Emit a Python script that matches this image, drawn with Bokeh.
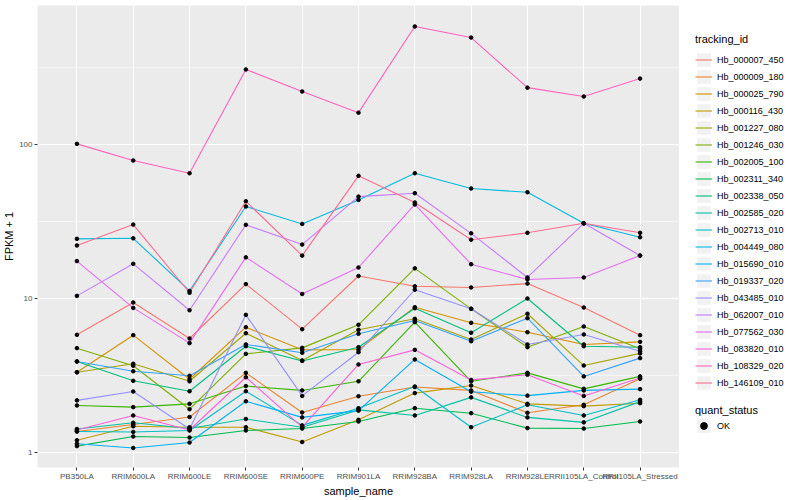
from bokeh.plotting import figure
from bokeh.layouts import row
from bokeh.models import (FactorRange, Range1d, FixedTicker, Legend, LegendItem,
                          CustomJSTickFormatter)
from bokeh.embed import file_html
from bokeh.resources import INLINE

samples = ["PB350LA", "RRIM600LA", "RRIM600LE", "RRIM600SE", "RRIM600PE", "RRIM901LA",
           "RRIM928BA", "RRIM928LA", "RRIM928LE", "RRII105LA_Control", "RRII105LA_Stressed"]

tracking_ids = ["Hb_000007_450", "Hb_000009_180", "Hb_000025_790", "Hb_000116_430",
                "Hb_001227_080", "Hb_001246_030", "Hb_002005_100", "Hb_002311_340",
                "Hb_002338_050", "Hb_002585_020", "Hb_002713_010", "Hb_004449_080",
                "Hb_015690_010", "Hb_019337_020", "Hb_043485_010", "Hb_062007_010",
                "Hb_077562_030", "Hb_083820_010", "Hb_108329_020", "Hb_146109_010"]

colors = ["#F8766D", "#EA8331", "#D89000", "#C09B00", "#A3A500", "#7CAE00", "#39B600",
          "#00BB4E", "#00BF7D", "#00C1A3", "#00BFC4", "#00BAE0", "#00B0F6", "#35A2FF",
          "#9590FF", "#C77CFF", "#E76BF3", "#FA62DB", "#FF62BC", "#FF6C91"]

quant_status = ["OK"]

# FPKM + 1 per sample (order of `samples`)
hb_000007_450 = [5.81, 9.42, 5.50, 12.4, 6.32, 14.0, 12.0, 11.8, 12.5, 8.74, 5.78]
hb_000009_180 = [1.37, 1.52, 1.70, 3.29, 1.82, 2.32, 2.66, 2.53, 1.81, 2.04, 3.01]
hb_000025_790 = [3.32, 5.78, 2.99, 6.51, 4.64, 4.66, 8.78, 6.95, 6.04, 5.03, 5.23]
hb_000116_430 = [1.20, 1.48, 1.46, 1.46, 1.17, 1.63, 2.43, 2.72, 2.07, 2.00, 2.09]
hb_001227_080 = [3.32, 3.77, 2.90, 5.95, 3.96, 6.26, 7.38, 5.42, 7.96, 3.67, 4.40]
hb_001246_030 = [4.76, 3.66, 1.91, 4.37, 4.78, 6.75, 15.7, 8.57, 4.83, 6.58, 4.71]
hb_002005_100 = [2.02, 1.97, 2.07, 2.70, 2.53, 2.90, 7.02, 2.90, 3.29, 2.59, 3.12]
hb_002311_340 = [1.10, 1.27, 1.25, 1.39, 1.43, 1.59, 1.94, 1.80, 1.44, 1.43, 1.59]
hb_002338_050 = [3.90, 2.92, 2.50, 4.90, 3.93, 4.83, 8.65, 5.99, 10.0, 4.90, 4.83]
hb_002585_020 = [1.42, 1.56, 1.43, 1.65, 1.46, 1.89, 1.74, 2.28, 1.69, 1.57, 2.14]
hb_002713_010 = [1.37, 1.36, 1.39, 2.50, 1.50, 1.94, 2.68, 1.46, 2.04, 1.74, 2.20]
hb_004449_080 = [24.4, 24.6, 11.2, 39.6, 30.5, 43.7, 65.1, 51.8, 49.0, 30.8, 25.0]
hb_015690_010 = [1.14, 1.07, 1.16, 2.15, 1.69, 1.87, 4.02, 2.48, 2.34, 2.53, 2.58]
hb_019337_020 = [3.90, 3.37, 3.15, 5.03, 4.44, 5.90, 7.19, 5.28, 7.45, 3.12, 4.10]
hb_043485_010 = [2.18, 2.49, 1.42, 7.83, 2.33, 4.48, 11.4, 8.57, 5.03, 5.84, 4.55]
hb_062007_010 = [10.4, 16.8, 8.39, 30.1, 22.4, 45.9, 48.3, 26.5, 13.7, 30.8, 19.0]
hb_077562_030 = [17.5, 8.69, 5.13, 18.5, 10.7, 15.9, 40.8, 16.7, 13.3, 13.7, 19.0]
hb_083820_010 = [1.40, 1.74, 1.40, 3.08, 1.46, 3.73, 4.64, 2.96, 3.20, 2.33, 3.05]
hb_108329_020 = [101, 78.7, 65.1, 307, 221, 161, 584, 495, 234, 205, 268]
hb_146109_010 = [22.1, 30.2, 10.9, 42.8, 19.0, 62.6, 42.0, 24.1, 26.7, 30.8, 26.7]

series = [hb_000007_450, hb_000009_180, hb_000025_790, hb_000116_430, hb_001227_080,
          hb_001246_030, hb_002005_100, hb_002311_340, hb_002338_050, hb_002585_020,
          hb_002713_010, hb_004449_080, hb_015690_010, hb_019337_020, hb_043485_010,
          hb_062007_010, hb_077562_030, hb_083820_010, hb_108329_020, hb_146109_010]

y_ticks = [1, 10, 100]
y_minor = [0.3162, 3.162, 31.62, 316.2]

FONT = "Liberation Sans"
H = 492

p = figure(x_range=FactorRange(factors=samples, range_padding=0.2, range_padding_units="absolute"),
           y_axis_type="log", y_range=Range1d(0.799, 799.5),
           frame_width=642, frame_height=462,
           min_border_left=30, min_border_right=0, min_border_top=5, min_border_bottom=0,
           output_backend="svg", toolbar_location=None)

p.background_fill_color = "#EBEBEB"
p.border_fill_color = "white"
p.outline_line_color = None

p.yaxis.ticker = FixedTicker(ticks=y_ticks, minor_ticks=y_minor)
p.yaxis.formatter = CustomJSTickFormatter(code="return String(tick)")

for ax in (p.xaxis, p.yaxis):
    ax.axis_line_color = None
    ax.major_tick_line_color = "#333333"
    ax.major_tick_out = 3
    ax.major_tick_in = 0
    ax.minor_tick_line_color = None
    ax.major_label_text_font = FONT
    ax.major_label_text_font_size = "8px"
    ax.major_label_text_color = "#4D4D4D"
    ax.major_label_standoff = 1
    ax.axis_label_text_font = FONT
    ax.axis_label_text_font_size = "11px"
    ax.axis_label_text_font_style = "normal"
    ax.axis_label_text_color = "black"
    ax.axis_label_standoff = 1

p.xaxis.axis_label = "sample_name"
p.yaxis.axis_label = "FPKM + 1"

p.xgrid.grid_line_color = "white"
p.xgrid.grid_line_width = 1.1
p.ygrid.grid_line_color = "white"
p.ygrid.grid_line_width = 1.1
p.ygrid.minor_grid_line_color = "white"
p.ygrid.minor_grid_line_width = 0.5

for vals, c in zip(series, colors):
    p.line(samples, vals, line_color=c, line_width=1.1)

px, py = [], []
for vals in series:
    px.extend(samples)
    py.extend(vals)
p.scatter(px, py, marker="circle", size=3.6, fill_color="black", line_color="black")

# ---- legend panel (separate figure so the legends are not clipped) ----
lg = figure(width=110, height=H, x_range=Range1d(0, 1), y_range=Range1d(0, 1),
            x_axis_location=None, y_axis_location=None,
            min_border_left=0, min_border_right=0, min_border_top=0, min_border_bottom=0,
            output_backend="svg", toolbar_location=None)
lg.outline_line_color = None
lg.xgrid.visible = False
lg.ygrid.visible = False

key_r = lg.quad(left=[5], right=[6], bottom=[5], top=[6], fill_color="#F2F2F2", line_color=None)
leg_lines = [lg.line([5, 6], [5, 6], line_color=c, line_width=1.1) for c in colors]
leg_pt = lg.scatter([5], [5], marker="circle", size=3.6, fill_color="black", line_color="black")


def style(leg, standoff):
    leg.background_fill_alpha = 0
    leg.border_line_color = None
    leg.padding = 0
    leg.margin = 0
    leg.spacing = 0
    leg.glyph_width = 17
    leg.glyph_height = 17
    leg.label_height = 17
    leg.label_standoff = 5
    leg.label_text_font = FONT
    leg.label_text_font_size = "9px"
    leg.label_text_color = "black"
    leg.title_text_font = FONT
    leg.title_text_font_size = "11px"
    leg.title_text_font_style = "normal"
    leg.title_text_color = "black"
    leg.title_standoff = standoff


items = [LegendItem(label=t, renderers=[key_r, r]) for t, r in zip(tracking_ids, leg_lines)]
leg1 = Legend(items=items, title="tracking_id", location=(16, 69))
style(leg1, 6)
lg.add_layout(leg1)

leg2 = Legend(items=[LegendItem(label=quant_status[0], renderers=[key_r, leg_pt])],
              title="quant_status", location=(16, 26))
style(leg2, 1)
lg.add_layout(leg2)

p.height = H
layout = row(p, lg)

open("out.html", "w").write(file_html(layout, INLINE))
